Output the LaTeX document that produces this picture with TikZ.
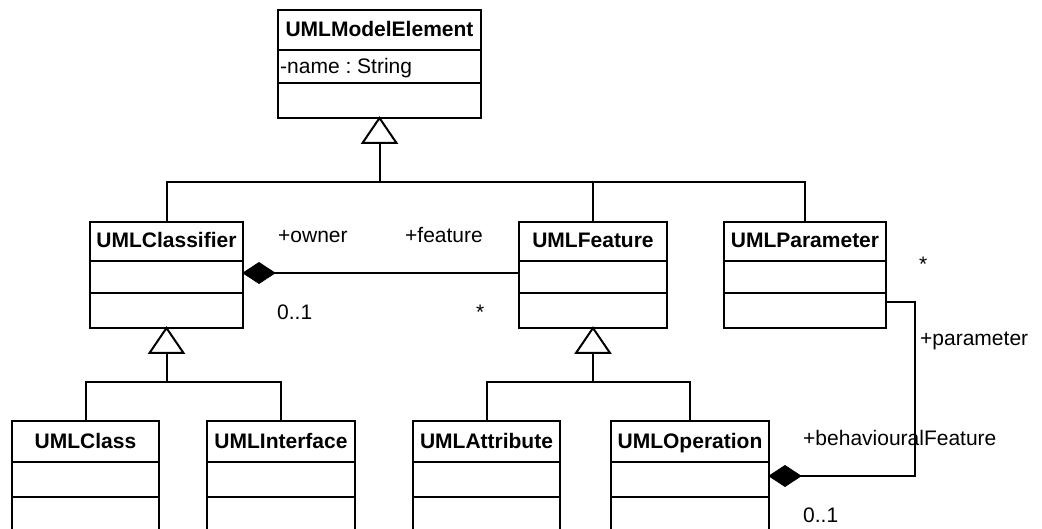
\documentclass[tikz,border=0pt]{standalone}
\usepackage{fontspec}
\setmainfont{Liberation Sans}
\usetikzlibrary{calc}
\frenchspacing
\tikzset{
  umlrect/.style={draw, line width=2pt, inner sep=0pt, outer sep=0pt, rectangle},
  titletext/.style={anchor=base, inner sep=0pt, font=\fontsize{21}{25}\selectfont\bfseries},
  lbl/.style={anchor=base west, inner sep=0pt, font=\fontsize{21}{25}\selectfont},
  conn/.style={line width=2pt},
  gentri/.style={line width=2pt, fill=white, line join=miter},
  diam/.style={fill=black, draw=black, line width=0.8pt, line join=miter}
}
\newcommand\umlbox[8]{%
  \node[umlrect, minimum width={(#4-#2)*1pt}, minimum height={(#5-#3)*1pt}] (#1) at ({(#2+#4)/2},{(#3+#5)/2}) {};
  \draw[line width=2pt] (#1.west |- 0,#6) -- (#1.east |- 0,#6);
  \draw[line width=2pt] (#1.west |- 0,#7) -- (#1.east |- 0,#7);
  \node[titletext] (#1-t) at ({(#2+#4)/2},{(#3+#6)/2+6.5}) {#8};
}
\begin{document}
\begin{tikzpicture}[x=1pt,y=-1pt]
\clip (0,0) rectangle (1042,529);
\fill[white] (0,0) rectangle (1042,529);
% classes
\umlbox{me}{278}{10}{481}{118}{50}{83}{UMLModelElement}
\node[lbl] (me-a) at (280,74) {-name : String};
\umlbox{cl}{90}{222}{243}{328}{261}{293}{UMLClassifier}
\umlbox{fe}{519}{222}{667}{328}{261}{293}{UMLFeature}
\umlbox{pa}{724}{222}{886}{328}{261}{293}{UMLParameter}
\umlbox{cs}{12}{421}{159}{545}{462}{497}{UMLClass}
\umlbox{in}{207}{421}{355}{545}{462}{497}{UMLInterface}
\umlbox{at}{413}{421}{560}{545}{462}{497}{UMLAttribute}
\umlbox{op}{611}{421}{769}{545}{462}{497}{UMLOperation}
% generalization 1
\draw[gentri] (me.south) -- ++(17,25) -- ++(-34,0) -- cycle;
\coordinate (t1) at ($(me.south)+(0,25)$);
\draw[conn] (t1) -- (t1 |- 0,182);
\draw[conn] (cl.north) -- (cl.north |- 0,182) -| (pa.north);
\draw[conn] (fe.north) -- (fe.north |- 0,182);
% generalization 2
\draw[gentri] (cl.south) -- ++(17,25) -- ++(-34,0) -- cycle;
\coordinate (t2) at ($(cl.south)+(0,25)$);
\draw[conn] (t2) -- (t2 |- 0,382);
\draw[conn] (cs.north) |- (in.north |- 0,382) -- (in.north);
% generalization 3
\draw[gentri] (fe.south) -- ++(17,25) -- ++(-34,0) -- cycle;
\coordinate (t3) at ($(fe.south)+(0,25)$);
\draw[conn] (t3) -- (t3 |- 0,382);
\draw[conn] (at.north) |- (op.north |- 0,382) -- (op.north);
% compositions
\coordinate (d1) at (cl.east |- 0,273);
\draw[conn] ($(d1)+(31,0)$) -- (fe.west |- d1);
\draw[diam] (d1) -- ++(16,-10.5) -- ++(16,10.5) -- ++(-16,10.5) -- cycle;
\coordinate (d2) at (op.east |- 0,476);
\coordinate (pbend) at (915,302);
\draw[conn] ($(d2)+(31,0)$) -| (pbend) -- (pa.east |- pbend);
\draw[diam] (d2) -- ++(16,-10.5) -- ++(16,10.5) -- ++(-16,10.5) -- cycle;
% labels
\node[lbl] (l1) at (278,243) {+owner};
\node[lbl] (l2) at (405,243) {+feature};
\node[lbl] (l3) at (277,320) {0..1};
\node[lbl] (l4) at (476,320) {*};
\node[lbl] (l5) at (919,272) {*};
\node[lbl] (l6) at (920,346) {+parameter};
\node[lbl] (l7) at (803,445) {+behaviouralFeature};
\node[lbl] (l8) at (803,522) {0..1};
\end{tikzpicture}
\end{document}
